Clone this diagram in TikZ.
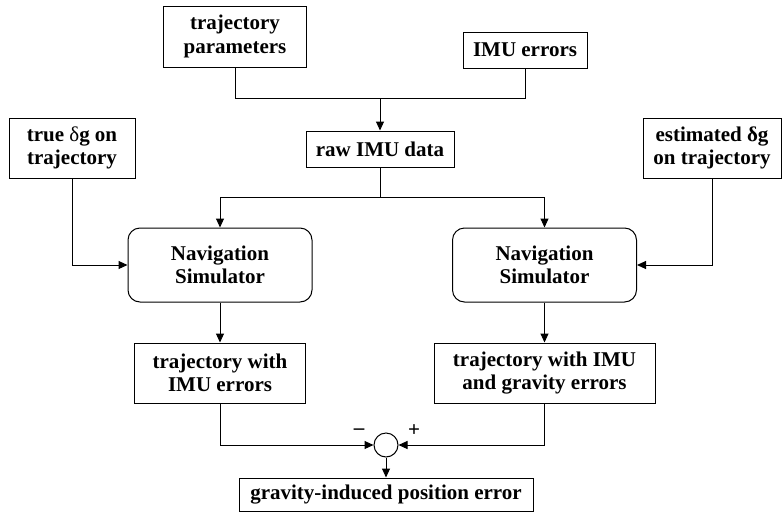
\documentclass[tikz,border=0pt]{standalone}
\usepackage{fontspec}
\setmainfont{Liberation Serif}
\usetikzlibrary{arrows.meta}
\begin{document}
\begin{tikzpicture}[x=1pt,y=-1pt,line width=1pt,
  txt/.style={font=\fontsize{21pt}{23.5pt}\selectfont\bfseries},
  box/.style={draw,txt,align=center,inner sep=0pt},
  navbox/.style={box,rounded corners=12pt,minimum width=184pt,minimum height=74pt},
  arr/.style={-{Triangle[length=9pt,width=8pt]}},
  sumnode/.style={draw,circle,minimum size=24pt,inner sep=0pt}]
\useasboundingbox (0,0) rectangle (783,514);
\node[box,minimum width=143pt,minimum height=61pt] (tp) at (235,36.5) {trajectory\\parameters};
\node[box,minimum width=124pt,minimum height=36pt] (imu) at (525,50) {IMU errors};
\node[box,minimum width=148pt,minimum height=36pt] (raw) at (380,149) {raw IMU data};
\node[box,minimum width=126pt,minimum height=60pt] (true) at (72,148) {true {\mdseries δ}g on\\trajectory};
\node[box,minimum width=138pt,minimum height=60pt] (est) at (712,148) {estimated δg\\on trajectory};
\node[navbox] (navL) at (220,265) {Navigation\\Simulator};
\node[navbox] (navR) at (544.5,265) {Navigation\\Simulator};
\node[box,minimum width=171pt,minimum height=60pt] (trajL) at (220,373) {trajectory with\\IMU errors};
\node[box,minimum width=221pt,minimum height=60pt] (trajR) at (544.5,373) {trajectory with IMU\\and gravity errors};
\node[sumnode] (sum) at (386,445) {};
\node[box,minimum width=294pt,minimum height=33pt] (bot) at (386,494.5) {gravity-induced position error};
\node[txt] (minus) at (359,432) {–};
\node[txt] (plus) at (414,431) {+};
\coordinate (j1) at (380,98);
\coordinate (j2) at (380,197);
\draw (tp.south) |- (j1);
\draw (imu.south) |- (j1);
\draw[arr] (j1) -- (raw.north);
\draw (raw.south) -- (j2);
\draw[arr] (j2) -| (navL.north);
\draw[arr] (j2) -| (navR.north);
\draw[arr] (true.south) |- (navL.west);
\draw[arr] (est.south) |- (navR.east);
\draw[arr] (navL.south) -- (trajL.north);
\draw[arr] (navR.south) -- (trajR.north);
\draw[arr] (trajL.south) |- (sum.west);
\draw[arr] (trajR.south) |- (sum.east);
\draw[arr] (sum.south) -- (bot.north);
\end{tikzpicture}
\end{document}
